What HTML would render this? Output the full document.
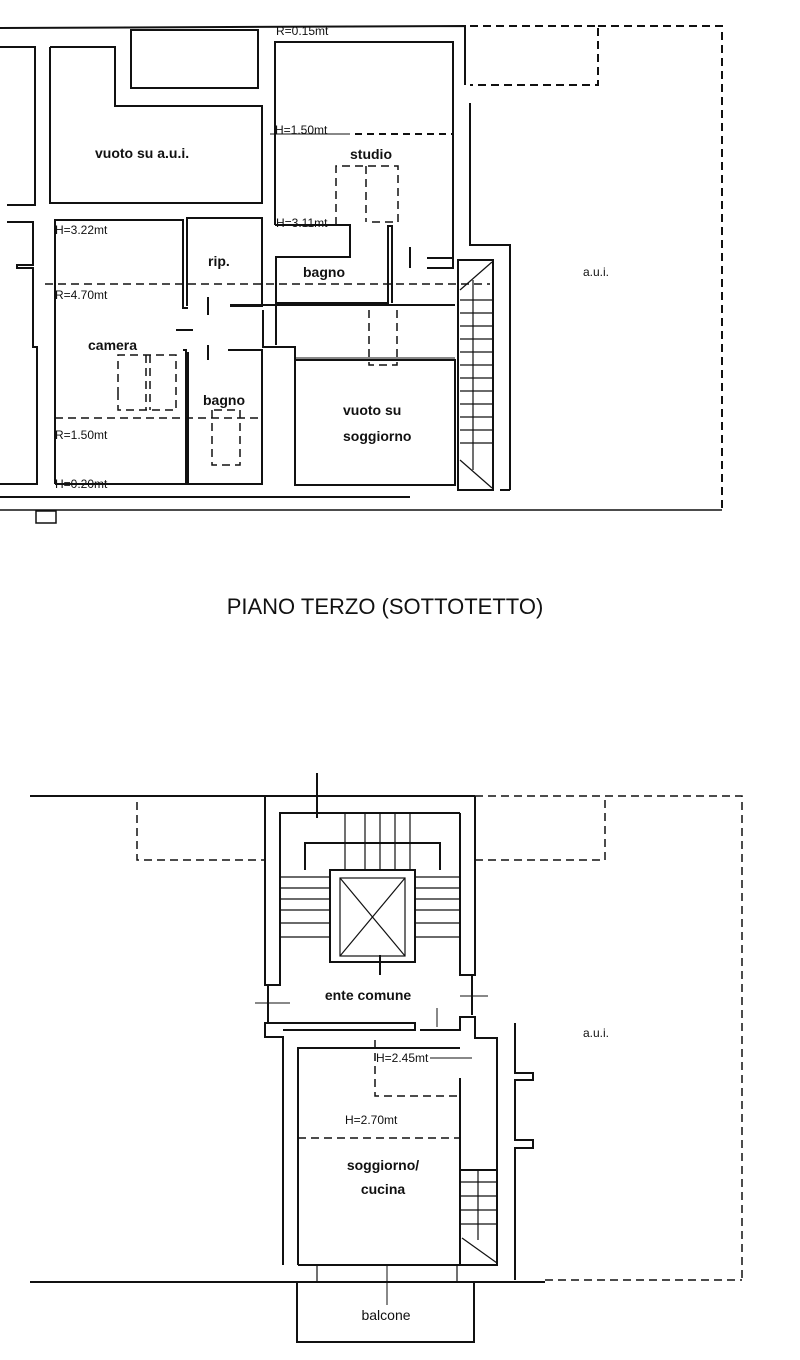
<!DOCTYPE html>
<html><head><meta charset="utf-8"><style>
html,body{margin:0;padding:0;background:#fff}
svg{display:block}
text{font-family:"Liberation Sans",sans-serif;fill:#111}
.b{font-weight:bold;font-size:14px}
.s{font-size:12px}
</style></head><body>
<svg width="800" height="1360" viewBox="0 0 800 1360" xmlns="http://www.w3.org/2000/svg">
<g fill="none" stroke="#111" stroke-width="2">
<!-- TOP PLAN -->
<polyline points="0,28 465,26 465,85"/>
<polyline points="470,26 598,26 598,85 470,85" stroke-dasharray="8,5"/>
<polyline points="0,47 35,47 35,205 7,205"/>
<polyline points="7,222 33,222 33,265 17,265 17,268 33,268 33,347 37,347 37,484 0,484"/>
<polyline points="50,47 115,47 115,106 262,106 262,203 50,203 50,47"/>
<rect x="131" y="30" width="127" height="58"/>
<polyline points="275,225 275,42 453,42 453,258"/>
<line x1="270" y1="134" x2="350" y2="134" stroke-width="1"/>
<line x1="355" y1="134" x2="453" y2="134" stroke-dasharray="7,5"/>
<polyline points="275,225 350,225 350,257 276,257 276,303 388,303 388,226 392,226 392,303"/>
<polyline points="55,484 55,220 183,220 183,308 188,308"/>
<polyline points="183,350 186,350 186,484 55,484"/>
<polyline points="187,306 187,218 262,218 262,306 230,306"/>
<polyline points="230,305 455,305"/>
<polyline points="228,350 262,350 262,484 188,484 188,352"/>
<polyline points="263,310 263,347 295,347 295,485 455,485 455,360 295,360"/>
<line x1="295" y1="358" x2="455" y2="358" stroke-width="1"/>
<polyline points="427,258 453,258 453,268 427,268"/>
<line x1="208" y1="297" x2="208" y2="315"/>
<line x1="208" y1="345" x2="208" y2="360"/>
<line x1="176" y1="330" x2="193" y2="330"/>
<line x1="410" y1="247" x2="410" y2="268"/>
<line x1="276" y1="304" x2="276" y2="345"/>
<!-- stairs -->
<rect x="458" y="260" width="35" height="230"/>
<g stroke-width="1.2">
<line x1="460" y1="290" x2="492" y2="262"/>
<line x1="460" y1="460" x2="492" y2="488"/>
<line x1="473" y1="280" x2="473" y2="470"/>
<line x1="460" y1="300" x2="492" y2="300"/><line x1="460" y1="313" x2="492" y2="313"/><line x1="460" y1="326" x2="492" y2="326"/><line x1="460" y1="339" x2="492" y2="339"/><line x1="460" y1="352" x2="492" y2="352"/><line x1="460" y1="365" x2="492" y2="365"/><line x1="460" y1="378" x2="492" y2="378"/><line x1="460" y1="391" x2="492" y2="391"/><line x1="460" y1="404" x2="492" y2="404"/><line x1="460" y1="417" x2="492" y2="417"/><line x1="460" y1="430" x2="492" y2="430"/><line x1="460" y1="443" x2="492" y2="443"/>
</g>
<polyline points="470,103 470,245 510,245 510,490"/>
<line x1="510" y1="490" x2="500" y2="490"/>
<polyline points="598,26 722,26 722,510" stroke-dasharray="8,5"/>
<line x1="0" y1="497" x2="410" y2="497"/>
<line x1="0" y1="510" x2="722" y2="510" stroke-width="1.5"/>
<rect x="36" y="511" width="20" height="12" stroke-width="1.5"/>
<g stroke-dasharray="8,5" stroke-width="1.5">
<line x1="45" y1="284" x2="490" y2="284"/>
<line x1="55" y1="418" x2="262" y2="418"/>
<polyline points="336,225 336,166 398,166 398,222 372,222"/>
<line x1="366" y1="166" x2="366" y2="222"/>
<polyline points="118,395 118,355 176,355 176,410 118,410 118,395"/>
<line x1="146" y1="355" x2="146" y2="410"/><line x1="150" y1="355" x2="150" y2="410"/>
<polyline points="212,410 212,465 240,465 240,410 212,410"/>
<polyline points="369,310 369,365 397,365 397,310"/>
</g>
<!-- BOTTOM PLAN -->
<polyline points="30,796 265,796"/>
<polyline points="137,802 137,860 265,860" stroke-dasharray="8,5" stroke-width="1.5"/>
<polyline points="265,796 265,985 280,985 280,813 460,813"/>
<polyline points="265,796 475,796"/>
<polyline points="460,813 460,975 475,975 475,796"/>
<polyline points="475,796 742,796 742,1280" stroke-dasharray="8,5" stroke-width="1.5"/>
<polyline points="475,860 605,860 605,796" stroke-dasharray="8,5" stroke-width="1.5"/>
<line x1="317" y1="773" x2="317" y2="818"/>
<polyline points="305,870 305,843 440,843 440,870"/>
<rect x="330" y="870" width="85" height="92"/>
<rect x="340" y="878" width="65" height="78" stroke-width="1.2"/>
<line x1="340" y1="878" x2="405" y2="956" stroke-width="1.2"/>
<line x1="405" y1="878" x2="340" y2="956" stroke-width="1.2"/>
<line x1="380" y1="955" x2="380" y2="975"/>
<g stroke-width="1.2">
<line x1="280" y1="877" x2="330" y2="877"/><line x1="280" y1="888" x2="330" y2="888"/><line x1="280" y1="899" x2="330" y2="899"/><line x1="280" y1="910" x2="330" y2="910"/><line x1="280" y1="923" x2="330" y2="923"/><line x1="280" y1="937" x2="330" y2="937"/>
<line x1="415" y1="877" x2="460" y2="877"/><line x1="415" y1="888" x2="460" y2="888"/><line x1="415" y1="899" x2="460" y2="899"/><line x1="415" y1="910" x2="460" y2="910"/><line x1="415" y1="923" x2="460" y2="923"/><line x1="415" y1="937" x2="460" y2="937"/>
<line x1="345" y1="813" x2="345" y2="870"/><line x1="365" y1="813" x2="365" y2="870"/><line x1="380" y1="813" x2="380" y2="870"/><line x1="395" y1="813" x2="395" y2="870"/><line x1="410" y1="813" x2="410" y2="870"/>
</g>
<line x1="268" y1="985" x2="268" y2="1023"/>
<line x1="472" y1="975" x2="472" y2="1015"/>
<line x1="255" y1="1003" x2="290" y2="1003" stroke-width="1"/>
<line x1="460" y1="996" x2="488" y2="996" stroke-width="1"/>
<polyline points="283,1265 283,1037 265,1037 265,1023 415,1023 415,1030 283,1030"/>
<polyline points="420,1030 460,1030 460,1017 475,1017 475,1038 497,1038 497,1265"/>
<line x1="437" y1="1008" x2="437" y2="1027" stroke-width="1"/>
<polyline points="298,1265 298,1048 460,1048"/>
<polyline points="460,1078 460,1265 298,1265"/>
<rect x="460" y="1170" width="37" height="95"/>
<g stroke-width="1.2">
<line x1="460" y1="1182" x2="497" y2="1182"/><line x1="460" y1="1196" x2="497" y2="1196"/><line x1="460" y1="1210" x2="497" y2="1210"/><line x1="460" y1="1224" x2="497" y2="1224"/><line x1="478" y1="1170" x2="478" y2="1240"/><line x1="462" y1="1238" x2="497" y2="1263"/>
</g>
<g stroke-dasharray="8,5" stroke-width="1.5">
<polyline points="375,1040 375,1096 460,1096"/>
<line x1="298" y1="1138" x2="460" y2="1138"/>
<line x1="545" y1="1280" x2="742" y2="1280"/>
</g>
<line x1="430" y1="1058" x2="472" y2="1058" stroke-width="1"/>
<line x1="30" y1="1282" x2="545" y2="1282"/>
<rect x="317" y="1265" width="140" height="17" stroke-width="1.2"/>
<line x1="387" y1="1265" x2="387" y2="1305" stroke-width="1"/>
<polyline points="297,1282 297,1342 474,1342 474,1282"/>
<polyline points="515,1023 515,1073 533,1073 533,1080 515,1080 515,1140 533,1140 533,1148 515,1148 515,1280"/>
</g>
<!-- texts -->
<text x="95" y="158" class="b">vuoto su a.u.i.</text>
<text x="350" y="159" class="b">studio</text>
<text x="208" y="266" class="b">rip.</text>
<text x="303" y="277" class="b">bagno</text>
<text x="88" y="350" class="b">camera</text>
<text x="203" y="405" class="b">bagno</text>
<text x="343" y="415" class="b">vuoto su</text>
<text x="343" y="441" class="b">soggiorno</text>
<text x="583" y="276" class="s">a.u.i.</text>
<text x="276" y="35" class="s">R=0.15mt</text>
<text x="275" y="134" class="s">H=1.50mt</text>
<text x="276" y="227" class="s">H=3.11mt</text>
<text x="55" y="234" class="s">H=3.22mt</text>
<text x="55" y="299" class="s">R=4.70mt</text>
<text x="55" y="439" class="s">R=1.50mt</text>
<text x="55" y="488" class="s">H=0.20mt</text>
<text x="385" y="614" font-size="22" text-anchor="middle">PIANO TERZO (SOTTOTETTO)</text>
<text x="368" y="1000" class="b" text-anchor="middle">ente comune</text>
<text x="583" y="1037" class="s">a.u.i.</text>
<text x="376" y="1062" class="s">H=2.45mt</text>
<text x="345" y="1124" class="s">H=2.70mt</text>
<text x="383" y="1170" class="b" text-anchor="middle">soggiorno/</text>
<text x="383" y="1194" class="b" text-anchor="middle">cucina</text>
<text x="386" y="1320" font-size="14" text-anchor="middle">balcone</text>
</svg>
</body></html>
